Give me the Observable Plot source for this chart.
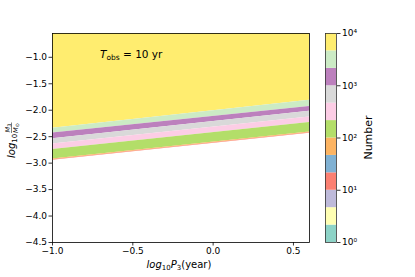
<!DOCTYPE html>
<html><head><meta charset="utf-8">
<script src="https://cdn.jsdelivr.net/npm/d3@7"></script>
<script src="https://cdn.jsdelivr.net/npm/@observablehq/plot@0.6"></script>
<style>
body{margin:0;background:#fff}
#wrap{position:relative;width:415px;height:277px;font-family:"DejaVu Sans"}
#wrap svg{position:absolute;top:0}
</style>
</head><body><div id="wrap"></div>
<script>
// x positions where the band boundaries were read (log10 P3 in years)
const xEdges = [-1.0, 0.6];
// band colours, top (highest count) to bottom
const bandColors = ["#ffed6f","#ccebc5","#bc80bd","#d9d9d9","#fccde5","#b3de69","#fdb462","#fb8072"];
// band boundaries (log10 M3/Msun) at x = -1.0 and x = 0.6, top to bottom
const boundsLeft  = [-0.55, -2.34, -2.43, -2.54, -2.64, -2.74, -2.92, -2.935, -2.945];
const boundsRight = [-0.55, -1.81, -1.93, -2.02, -2.13, -2.23, -2.41, -2.425, -2.435];
// axis ticks
const xTicks = [-1.0, -0.5, 0.0, 0.5];
const yTicks = [-1.0, -1.5, -2.0, -2.5, -3.0, -3.5, -4.0, -4.5];
// colorbar levels and colours (Set3)
const cbLevels = [1, 2.154, 4.642, 10, 21.54, 46.42, 100, 215.4, 464.2, 1000, 2154, 4642, 10000];
const cbColors = ["#8dd3c7","#ffffb3","#bebada","#fb8072","#80b1d3","#fdb462","#b3de69","#fccde5","#d9d9d9","#bc80bd","#ccebc5","#ffed6f"];
const cbTicks = [1, 10, 100, 1000, 10000];
const cbTickLabels = ["10⁰","10¹","10²","10³","10⁴"];

const rows = [];
bandColors.forEach((c, i) => {
  xEdges.forEach((x, j) => {
    const b = j === 0 ? boundsLeft : boundsRight;
    rows.push({band: i, color: c, x, top: b[i], bottom: b[i + 1]});
  });
});

const fmt = d => (d < 0 ? "\u2212" : "") + Math.abs(d).toFixed(1);

const main = Plot.plot({
  width: 415, height: 277,
  marginLeft: 52, marginRight: 106, marginTop: 33, marginBottom: 35,
  style: {fontFamily: "DejaVu Sans", fontSize: "9px", color: "#000", background: "transparent"},
  x: {domain: [-1.0, 0.6], ticks: xTicks, tickFormat: fmt, label: null},
  y: {domain: [-4.5, -0.55], ticks: yTicks, tickFormat: fmt, label: null},
  marks: [
    Plot.areaY(rows, {x: "x", y1: "bottom", y2: "top", z: "band", fill: "color"}),
    Plot.frame({stroke: "#000", strokeWidth: 0.8}),
    Plot.axisX({ticks: xTicks, tickFormat: fmt, tickSize: 3.5, tickPadding: 2, label: null, strokeWidth: 0.8}),
    Plot.axisY({ticks: yTicks, tickFormat: fmt, tickSize: 3.5, tickPadding: 2, label: null, strokeWidth: 0.8})
  ]
});

const cbData = cbColors.map((c, i) => ({lo: cbLevels[i], hi: cbLevels[i + 1], color: c}));
const cbar = Plot.plot({
  width: 90, height: 277,
  marginLeft: 0, marginRight: 79, marginTop: 33, marginBottom: 35,
  style: {fontFamily: "DejaVu Sans", fontSize: "9px", color: "#000", background: "transparent", overflow: "visible"},
  x: {domain: [0, 1], axis: null},
  y: {type: "log", domain: [1, 10000], label: null, axis: null},
  marks: [
    Plot.rect(cbData, {x1: 0, x2: 1, y1: "lo", y2: "hi", fill: "color"}),
    Plot.frame({stroke: "#333", strokeWidth: 0.8}),
    Plot.axisY(cbTicks, {anchor: "right", tickFormat: d => cbTickLabels[cbTicks.indexOf(d)], tickSize: 3.5, tickPadding: 2, label: null, strokeWidth: 0.8})
  ]
});

const wrap = document.getElementById("wrap");
wrap.appendChild(main);
main.style.left = "0px";
wrap.appendChild(cbar);
cbar.style.left = "325px";

const ms = d3.select(main);
// annotation
const ann = ms.append("text").attr("x", 100).attr("y", 57.5).attr("text-anchor", "start").attr("font-size", "10.5px").attr("fill", "#000");
ann.append("tspan").attr("font-style", "italic").text("T");
ann.append("tspan").attr("font-size", "7.5px").attr("dy", 2).text("obs");
ann.append("tspan").attr("dy", -2).text(" = 10 yr");

// x label
const xl = ms.append("text").attr("x", 179).attr("y", 268).attr("text-anchor", "middle").attr("font-size", "10px").attr("fill", "#000");
xl.append("tspan").attr("font-style", "italic").text("log");
xl.append("tspan").attr("font-size", "7px").attr("dy", 2).text("10");
xl.append("tspan").attr("font-style", "italic").attr("dy", -2).text("P");
xl.append("tspan").attr("font-size", "7px").attr("dy", 2).text("3");
xl.append("tspan").attr("dy", -2).text("(year)");

// y label
const yl = ms.append("g").attr("transform", "translate(15,158) rotate(-90)").attr("fill", "#000");
const yt = yl.append("text").attr("x", 0).attr("y", 0).attr("text-anchor", "start").attr("font-size", "10px");
yt.append("tspan").attr("font-style", "italic").text("log");
yt.append("tspan").attr("font-size", "7px").attr("dy", 2).text("10");
const num = yl.append("text").attr("x", 30).attr("y", -5.5).attr("text-anchor", "middle").attr("font-size", "6.5px");
num.append("tspan").attr("font-style", "italic").text("M");
num.append("tspan").attr("font-size", "5px").attr("dy", 1.2).text("3");
yl.append("line").attr("x1", 25).attr("x2", 35.5).attr("y1", -3.5).attr("y2", -3.5).attr("stroke", "#000").attr("stroke-width", 0.5);
const den = yl.append("text").attr("x", 30).attr("y", 2.5).attr("text-anchor", "middle").attr("font-size", "6.5px");
den.append("tspan").attr("font-style", "italic").text("M");
den.append("tspan").attr("font-size", "5px").attr("dy", 1.2).text("⊙");

// colorbar label
d3.select(cbar).append("text").attr("transform", "translate(47,137.5) rotate(-90)")
  .attr("text-anchor", "middle").attr("font-size", "11px").attr("fill", "#000").text("Number");
</script>
</body></html>
